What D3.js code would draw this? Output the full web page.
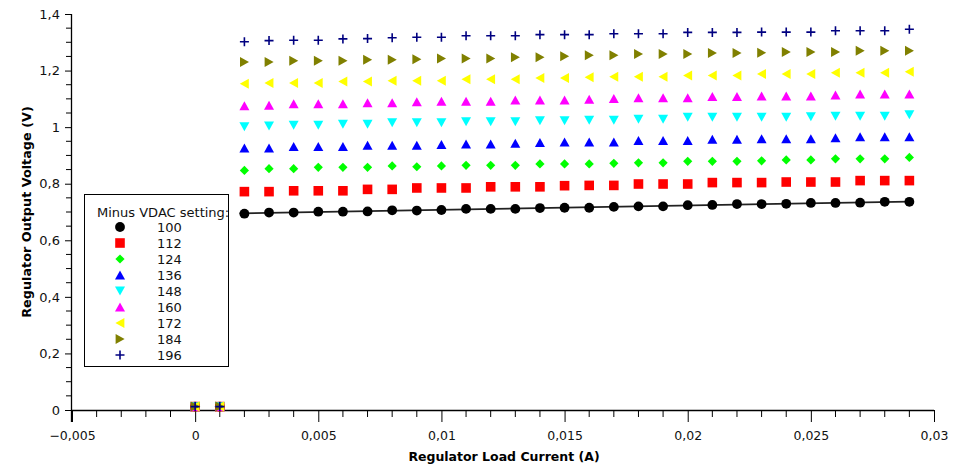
<!DOCTYPE html>
<html><head><meta charset="utf-8">
<script src="https://cdn.jsdelivr.net/npm/d3@7"></script>
<style>body{margin:0;background:#fff}svg{display:block}text{font-family:"DejaVu Sans",sans-serif}</style>
</head><body>
<script>
const current = [0,0.001,0.002,0.003,0.004,0.005,0.006,0.007,0.008,0.009,0.010,0.011,0.012,0.013,0.014,0.015,0.016,0.017,0.018,0.019,0.020,0.021,0.022,0.023,0.024,0.025,0.026,0.027,0.028,0.029];
const settings = ["100","112","124","136","148","160","172","184","196"];
const v100 = [0.012,0.012,0.694,0.698,0.698,0.701,0.701,0.702,0.706,0.705,0.707,0.711,0.711,0.711,0.714,0.715,0.715,0.718,0.720,0.720,0.724,0.725,0.728,0.728,0.729,0.732,0.732,0.733,0.736,0.736];
const v112 = [0.012,0.012,0.772,0.772,0.775,0.775,0.775,0.780,0.780,0.785,0.785,0.785,0.789,0.789,0.789,0.793,0.794,0.794,0.799,0.799,0.799,0.804,0.804,0.804,0.806,0.806,0.806,0.811,0.811,0.811];
const v124 = [0.012,0.012,0.847,0.853,0.853,0.858,0.858,0.858,0.863,0.860,0.863,0.865,0.865,0.865,0.870,0.870,0.870,0.872,0.874,0.874,0.879,0.879,0.879,0.881,0.884,0.884,0.888,0.888,0.888,0.893];
const v136 = [0.012,0.012,0.926,0.926,0.931,0.931,0.931,0.936,0.936,0.936,0.938,0.940,0.940,0.943,0.945,0.947,0.947,0.947,0.952,0.952,0.952,0.957,0.957,0.959,0.959,0.959,0.962,0.966,0.966,0.966];
const v148 = [0.012,0.012,1.002,1.004,1.007,1.007,1.011,1.011,1.016,1.016,1.016,1.019,1.019,1.019,1.023,1.023,1.025,1.025,1.028,1.028,1.035,1.035,1.035,1.035,1.035,1.037,1.039,1.039,1.039,1.044];
const v160 = [0.012,0.012,1.075,1.077,1.082,1.082,1.082,1.086,1.086,1.089,1.091,1.091,1.091,1.096,1.096,1.096,1.098,1.101,1.104,1.104,1.104,1.108,1.108,1.110,1.110,1.110,1.113,1.117,1.117,1.117];
const v172 = [0.012,0.012,1.153,1.156,1.156,1.156,1.161,1.161,1.164,1.164,1.164,1.169,1.169,1.169,1.174,1.174,1.176,1.178,1.178,1.178,1.183,1.183,1.183,1.188,1.188,1.188,1.192,1.192,1.192,1.196];
const v184 = [0.012,0.012,1.230,1.230,1.235,1.235,1.235,1.238,1.238,1.240,1.243,1.243,1.243,1.247,1.247,1.251,1.254,1.254,1.259,1.259,1.259,1.262,1.262,1.263,1.266,1.266,1.266,1.270,1.270,1.270];
const v196 = [0.012,0.012,1.302,1.306,1.307,1.307,1.312,1.313,1.316,1.318,1.318,1.323,1.323,1.323,1.327,1.327,1.327,1.330,1.330,1.330,1.335,1.335,1.335,1.336,1.336,1.336,1.341,1.341,1.341,1.346];
const seriesValues = [v100,v112,v124,v136,v148,v160,v172,v184,v196];
const colors = ["#000000","#ff0000","#00ff00","#0000ff","#00ffff","#ff00ff","#ffff00","#808000","#000080"];
const shapes = ["circle","square","diamond","triUp","triDown","triUp","triLeft","triRight","plus"];
const xTicks = [-0.005,0,0.005,0.01,0.015,0.02,0.025,0.03];
const xTickLabels = ["\u22120,005","0","0,005","0,01","0,015","0,02","0,025","0,03"];
const yTicks = [0,0.2,0.4,0.6,0.8,1,1.2,1.4];
const yTickLabels = ["0","0,2","0,4","0,6","0,8","1","1,2","1,4"];

const W = 967, H = 465;
const svg = d3.select("body").append("svg").attr("width", W).attr("height", H);
const x = d3.scaleLinear().domain([-0.005, 0.03]).range([72, 934]);
const y = d3.scaleLinear().domain([0, 1.4]).range([410, 14]);

function markerPath(shape){
  switch(shape){
    case "circle": return d3.symbol(d3.symbolCircle, Math.PI*4.9*4.9)();
    case "square": return "M-4.8,-4.8H4.8V4.8H-4.8Z";
    case "diamond": return "M0,-4.6L4.6,0L0,4.6L-4.6,0Z";
    case "triUp": return "M0,-4.6L5,4.4L-5,4.4Z";
    case "triDown": return "M0,4.6L5,-4.4L-5,-4.4Z";
    case "triLeft": return "M-4.6,0L4.4,-5L4.4,5Z";
    case "triRight": return "M4.6,0L-4.4,-5L-4.4,5Z";
    case "plus": return "M-4.5,0H4.5M0,-4.5V4.5";
  }
}
function drawMarker(g, shape, color){
  const p = g.append("path").attr("d", markerPath(shape));
  if (shape === "plus") p.attr("fill","none").attr("stroke", color).attr("stroke-width", 1.6);
  else p.attr("fill", color);
}

// Axes
const xAxis = d3.axisBottom(x).tickValues(xTicks).tickFormat((d,i)=>xTickLabels[i]).tickSize(12).tickSizeOuter(0).tickPadding(9);
const gx = svg.append("g").attr("transform","translate(0,410)").call(xAxis);
const xMinor = [];
for (let i=-5;i<=30;i++){ if (i%5!==0) xMinor.push(i/1000); }
gx.selectAll(".minor").data(xMinor).enter().append("line").attr("class","minor")
  .attr("x1",d=>x(d)).attr("x2",d=>x(d)).attr("y1",0).attr("y2",7).attr("stroke","#000");
gx.select(".domain").attr("d","M72,0.5H934");
gx.selectAll("text").style("font-size","12.5px").attr("fill","#111");

const yAxis = d3.axisLeft(y).tickValues(yTicks).tickFormat((d,i)=>yTickLabels[i]).tickSize(7).tickSizeOuter(0).tickPadding(5);
const gy = svg.append("g").attr("transform","translate(72,0)").call(yAxis);
const yMinor = [];
for (let i=0;i<=28;i++){ if (i%4!==0) yMinor.push(i*0.05); }
gy.selectAll(".minor").data(yMinor).enter().append("line").attr("class","minor")
  .attr("y1",d=>y(d)).attr("y2",d=>y(d)).attr("x1",0).attr("x2",-6).attr("stroke","#000");
gy.select(".domain").attr("d","M-0.5,14V422");
gy.selectAll("text").style("font-size","13px").attr("fill","#111");
svg.selectAll(".domain").attr("stroke","#000").attr("stroke-width",1.3);

// Axis titles
svg.append("text").attr("x",504).attr("y",461).attr("text-anchor","middle")
  .style("font-size","12.5px").style("font-weight","bold").text("Regulator Load Current (A)");
svg.append("text").attr("transform","translate(31,212) rotate(-90)").attr("text-anchor","middle")
  .style("font-size","12.8px").style("font-weight","bold").text("Regulator Output Voltage (V)");

// Fit line for the 100 series (least squares on loaded points)
const fitPts = current.map((c,i)=>[c, v100[i]]).filter(p=>p[0]>=0.002);
const mx = d3.mean(fitPts,p=>p[0]), my = d3.mean(fitPts,p=>p[1]);
const slope = d3.sum(fitPts,p=>(p[0]-mx)*(p[1]-my))/d3.sum(fitPts,p=>(p[0]-mx)**2);
const icpt = my - slope*mx;
const xs = [d3.min(fitPts,p=>p[0]) - 0.0002, d3.max(fitPts,p=>p[0])];
svg.append("line").attr("x1",x(xs[0])).attr("x2",x(xs[1]))
  .attr("y1",y(icpt+slope*xs[0])).attr("y2",y(icpt+slope*xs[1]))
  .attr("stroke","#222").attr("stroke-width",1.8);

// Points
seriesValues.forEach((vals, si) => {
  const g = svg.append("g");
  vals.forEach((v, i) => {
    const m = g.append("g").attr("transform", `translate(${x(current[i])},${y(v)})`);
    drawMarker(m, shapes[si], colors[si]);
  });
});

// Legend
const lg = svg.append("g");
lg.append("rect").attr("x",84.5).attr("y",194.5).attr("width",144).attr("height",172)
  .attr("fill","#fff").attr("stroke","#000").attr("stroke-width",1);
lg.append("text").attr("x",97).attr("y",217).style("font-size","13px").attr("fill","#111").text("Minus VDAC setting:");
settings.forEach((s, i) => {
  const cy = 227 + i*16;
  const m = lg.append("g").attr("transform",`translate(120,${cy})`);
  drawMarker(m, shapes[i], colors[i]);
  lg.append("text").attr("x",157).attr("y",cy+4.5).style("font-size","13px").attr("fill","#111").text(s);
});
</script>
</body></html>
